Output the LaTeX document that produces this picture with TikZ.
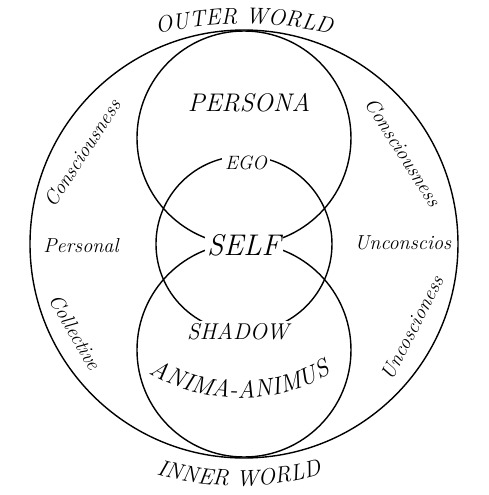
\documentclass[tikz,border=0pt]{standalone}
\usepackage{tikz}
\usetikzlibrary{decorations.text}

\begin{document}
\begin{tikzpicture}[
    x=0.02cm, y=0.02cm,
    ring/.style={draw, line width=0.8pt},
    word/.style={font=\itshape\fontsize{13}{15}\selectfont, fill=white, inner sep=1.5pt},
    side/.style={font=\itshape\fontsize{11.5}{13}\selectfont}
]
\useasboundingbox (-244,-251) rectangle (245,244);

% Circles
\draw[ring] (0,0) circle (214);
\draw[ring] (0,106) circle (107);
\draw[ring] (0,-106) circle (107);
\draw[ring] (0,0) circle (88);

% Inner labels
\node[word, font=\itshape\fontsize{14.5}{16}\selectfont] (persona) at (5,141) {PERSONA};
\node[word, font=\itshape\fontsize{11}{13}\selectfont] (ego) at (2,81) {EGO};
\node[word, font=\itshape\fontsize{17}{19}\selectfont] (self) at (0,-1) {SELF};
\node[word] (shadow) at (-6,-88) {SHADOW};

% Curved labels
\path[decorate, decoration={text along path, text align=center,
    text={|\itshape\fontsize{13}{15}\selectfont|OUTER WORLD}}, shift={(0,-180)}]
    (115:400) arc[start angle=115, end angle=65, radius=400];
\path[decorate, decoration={text along path, text align=center,
    text={|\itshape\fontsize{13}{15}\selectfont|INNER WORLD}}, shift={(-5,52)}]
    (245:294) arc[start angle=245, end angle=295, radius=294];
\path[decorate, decoration={text along path, text align=center,
    text={|\itshape\fontsize{14}{16}\selectfont|ANIMA-ANIMUS}}, shift={(-4,28)}]
    (232:182) arc[start angle=232, end angle=308, radius=182];

% Left side
\node[side, rotate=57] (conscL) at (-162,91) {Consciousness};
\node[side] (persL) at (-163,-2) {Personal};
\node[side, rotate=-60] (collL) at (-169,-88) {Collective};

% Right side
\node[side, rotate=-57.5] (conscR) at (159,92) {Consciousness};
\node[side] (uncR) at (159,1) {Unconscios};
\node[side, rotate=62.7] (uncoR) at (168,-84) {Uncoscioness};

\end{tikzpicture}
\end{document}
